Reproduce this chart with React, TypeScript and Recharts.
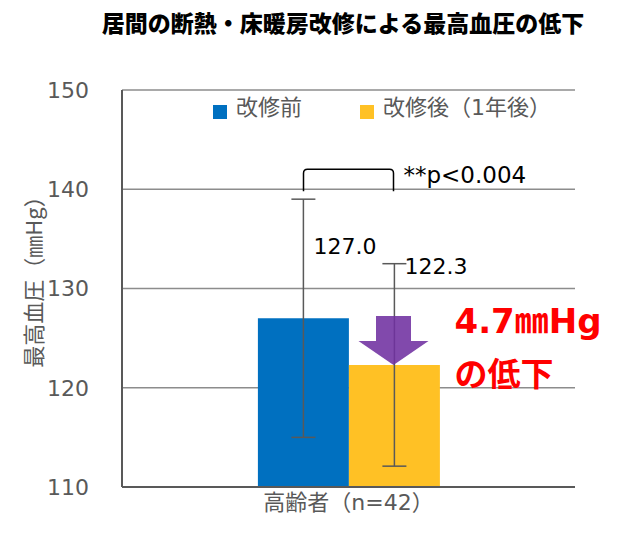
import React from 'react'
import {
  BarChart,
  Bar,
  XAxis,
  YAxis,
  CartesianGrid,
  ErrorBar,
  LabelList,
  Legend,
  ReferenceDot,
} from 'recharts'

const categories = ['高齢者（n=42）']
const seriesNames = ['改修前', '改修後（1年後）']
const beforeValues = [127.0]
const afterValues = [122.3]
const beforeErrors = [12.0]
const afterErrors = [10.2]
const yTicks = [110, 120, 130, 140, 150]
const pValueText = '**p<0.004'
const dropText = ['4.7㎜Hg', 'の低下']

const BLUE = '#0070C0'
const YELLOW = '#FFC125'
const GRAY = '#595959'
const GRID = '#8C8C8C'
const LATIN = '"DejaVu Sans", "Noto Sans CJK JP", sans-serif'
const CJK = '"Noto Sans CJK JP", "DejaVu Sans", sans-serif'

const data = categories.map((name, i) => ({
  name,
  before: beforeValues[i],
  after: afterValues[i],
  beforeErr: beforeErrors[i],
  afterErr: afterErrors[i],
}))

const BAR_HALF = 45

function valueLabel(dx: number, dy: number) {
  return (props: any) => {
    const x = Number(props.x) + Number(props.width) / 2 + dx
    const y = Number(props.y) + dy
    return (
      <text x={x} y={y} fontSize={22} fontFamily={LATIN} fill="#000">
        {Number(props.value).toFixed(1)}
      </text>
    )
  }
}

function YLabel(props: any) {
  const vb = props.viewBox || { x: 0, y: 0, height: 0 }
  const x = vb.x + 20
  const y = vb.y + vb.height / 2 - 12
  return (
    <text
      x={x}
      y={y}
      transform={`rotate(-90, ${x}, ${y})`}
      textAnchor="middle"
      dominantBaseline="central"
      fontSize={22}
      fontFamily={CJK}
      fill={GRAY}
    >
      最高血圧（㎜Hg）
    </text>
  )
}

function Bracket(props: any) {
  const { cx, cy } = props
  const l = cx - BAR_HALF
  const r = cx + BAR_HALF
  const top = cy - 20
  const rad = 4
  return (
    <g>
      <path
        d={`M${l},${cy + 2} L${l},${top + rad} Q${l},${top} ${l + rad},${top} L${r - rad},${top} Q${r},${top} ${r},${top + rad} L${r},${cy + 2}`}
        fill="none"
        stroke="#000"
        strokeWidth={1.5}
      />
      <text x={r + 10} y={cy - 6} fontSize={23} fontFamily={LATIN} fill="#000">
        {pValueText}
      </text>
    </g>
  )
}

function DropArrow(props: any) {
  const { cx, cy } = props
  const tx = cx + BAR_HALF
  const ty = cy
  const pts = [
    [tx - 17.5, ty - 49],
    [tx + 17.5, ty - 49],
    [tx + 17.5, ty - 24],
    [tx + 35, ty - 24],
    [tx, ty],
    [tx - 35, ty - 24],
    [tx - 17.5, ty - 24],
  ]
    .map((p) => p.join(','))
    .join(' ')
  return (
    <g>
      <polygon points={pts} fill="#7030A0" fillOpacity={0.88} />
      <text x={tx + 61} y={ty - 32} fontSize={34} fontWeight="bold" fontFamily={LATIN} fill="#FF0000">
        {dropText[0]}
      </text>
      <text x={tx + 61} y={ty + 21} fontSize={33} fontWeight="bold" fontFamily={CJK} fill="#FF0000">
        {dropText[1]}
      </text>
    </g>
  )
}

function LegendContent(props: any) {
  const items = props.payload || []
  return (
    <div style={{ display: 'flex', gap: 58, alignItems: 'center' }}>
      {items.map((it: any) => (
        <div key={it.value} style={{ display: 'flex', alignItems: 'center' }}>
          <span
            style={{
              display: 'inline-block',
              width: 14,
              height: 14,
              background: it.color,
              marginRight: 9,
              marginTop: 8,
            }}
          />
          <span style={{ fontSize: 22, fontFamily: LATIN, color: GRAY, lineHeight: '24px' }}>
            {it.value}
          </span>
        </div>
      ))}
    </div>
  )
}

export default function App() {
  return (
    <div style={{ position: 'absolute', left: 0, top: 0, width: 640, height: 539, background: '#fff' }}>
      <div
        style={{
          position: 'absolute',
          top: 9,
          left: 23,
          width: 640,
          textAlign: 'center',
          fontSize: 23,
          fontWeight: 900,
          fontFamily: CJK,
          lineHeight: '26px',
          color: '#000',
        }}
      >
        居間の断熱・床暖房改修による最高血圧の低下
      </div>
      <BarChart
        width={640}
        height={539}
        data={data}
        margin={{ top: 90, right: 65, left: 12, bottom: 12 }}
        barCategoryGap="30%"
        barGap={0}
      >
        <CartesianGrid horizontal vertical={false} stroke={GRID} strokeWidth={1.5} />
        <XAxis
          dataKey="name"
          height={40}
          tickLine={false}
          tickSize={0}
          tickMargin={7}
          axisLine={{ stroke: GRAY, strokeWidth: 2 }}
          tick={{ fontSize: 22, fill: GRAY, fontFamily: LATIN }}
        />
        <XAxis xAxisId="top" dataKey="name" orientation="top" height={0} tick={false} tickLine={false} axisLine={{ stroke: GRID, strokeWidth: 1.5 }} />
        <YAxis
          width={110}
          domain={[110, 150]}
          ticks={yTicks}
          tickLine={false}
          tickSize={0}
          tickMargin={33}
          axisLine={{ stroke: GRAY, strokeWidth: 2 }}
          tick={{ fontSize: 22, fill: GRAY, fontFamily: LATIN }}
          label={<YLabel />}
        />
        <YAxis yAxisId="right" orientation="right" width={0} domain={[110, 150]} tick={false} tickLine={false} axisLine={{ stroke: GRAY, strokeWidth: 2 }} />
        <Legend
          verticalAlign="middle"
          layout="horizontal"
          content={<LegendContent />}
          wrapperStyle={{ position: 'absolute', top: 96, left: 213, width: 'auto' }}
        />
        <Bar dataKey="before" name={seriesNames[0]} fill={BLUE} isAnimationActive={false}>
          <ErrorBar dataKey="beforeErr" width={12} stroke={GRAY} strokeWidth={1.5} direction="y" />
          <LabelList dataKey="before" content={valueLabel(10, -64)} />
        </Bar>
        <Bar dataKey="after" name={seriesNames[1]} fill={YELLOW} isAnimationActive={false}>
          <ErrorBar dataKey="afterErr" width={12} stroke={GRAY} strokeWidth={1.5} direction="y" />
          <LabelList dataKey="after" content={valueLabel(10, -91)} />
        </Bar>
        <ReferenceDot x={categories[0]} y={140} r={0} shape={(p: any) => <Bracket {...p} />} />
        <ReferenceDot x={categories[0]} y={afterValues[0]} r={0} shape={(p: any) => <DropArrow {...p} />} />
      </BarChart>
    </div>
  )
}
